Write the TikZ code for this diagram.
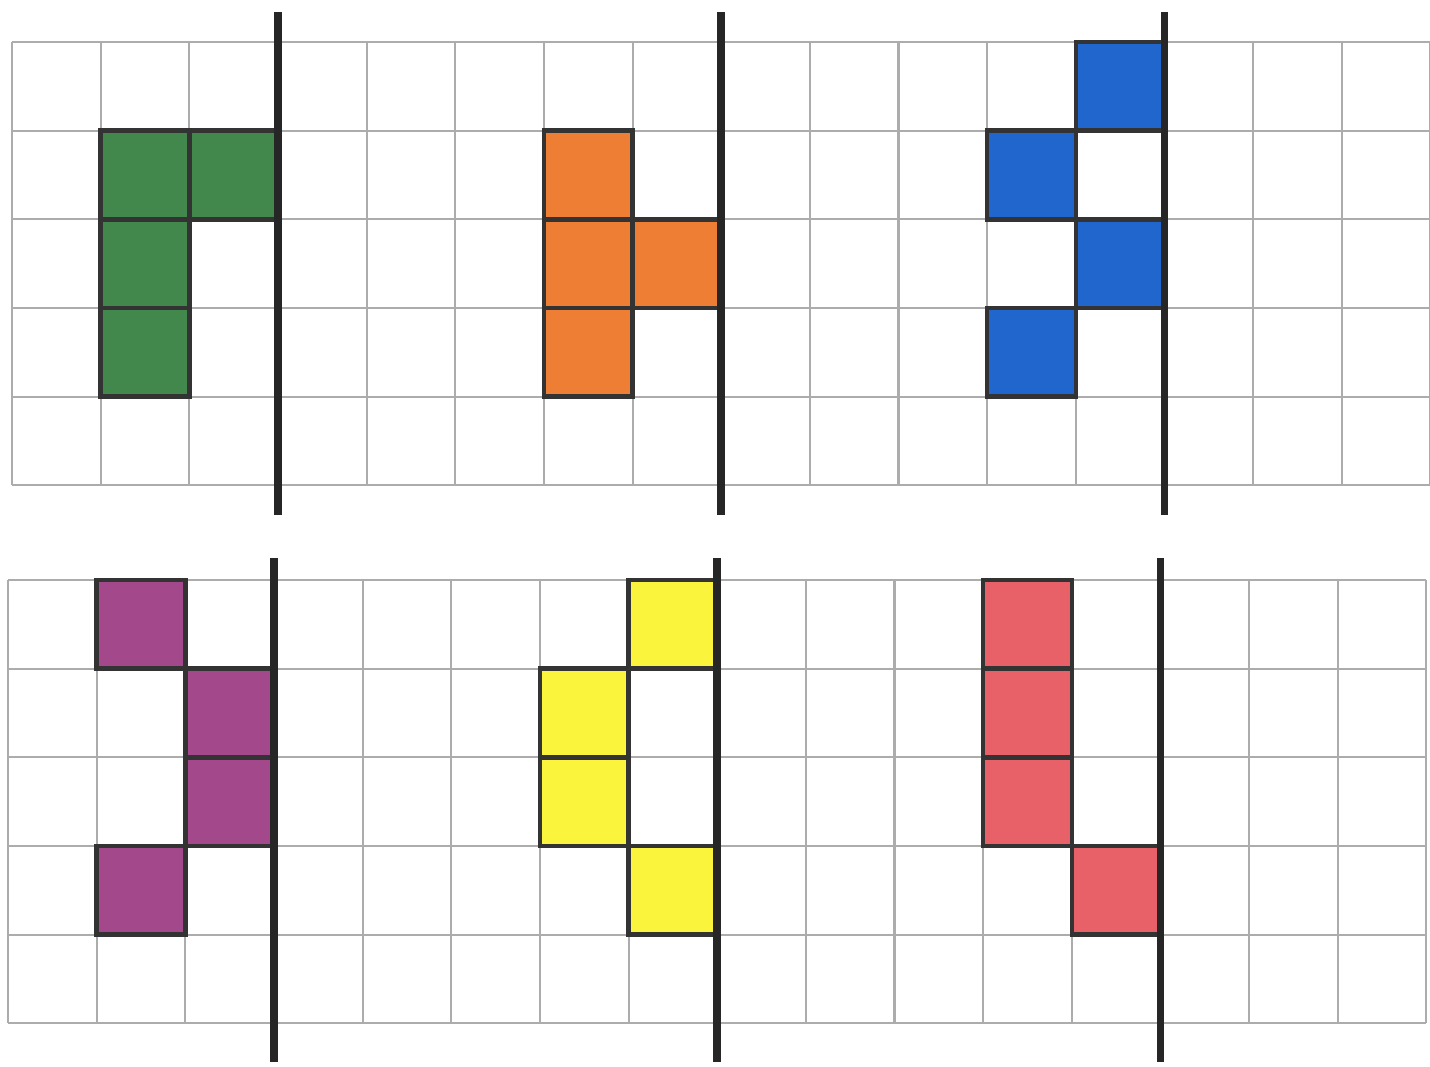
\documentclass[tikz,border=0pt]{standalone}
\usepackage{tikz}
\usetikzlibrary{positioning}
\usepackage{xcolor}
\definecolor{sqgreen}{RGB}{66,135,76}
\definecolor{sqorange}{RGB}{238,126,52}
\definecolor{sqblue}{RGB}{32,102,204}
\definecolor{sqpurple}{RGB}{164,72,140}
\definecolor{sqyellow}{RGB}{250,244,60}
\definecolor{sqred}{RGB}{232,96,104}

\begin{document}
\begin{tikzpicture}[
    x=0.01cm, y=-0.01cm,
    gridline/.style={gray!65, line width=0.6pt},
    mirror/.style={black!85, line width=2.2pt},
    cellbox/.style={draw=black!80, line width=1.3pt, fill=#1}
]
\useasboundingbox (0,0) rectangle (1430,1067);
\fill[white] (0,0) rectangle (1430,1067);

% upper sheet
\begin{scope}[shift={(12,42)}, x=0.886cm, y=-0.886cm]
\foreach \i in {0,...,16} \draw[gridline] (\i,0) -- (\i,5);
\foreach \j in {0,...,5} \draw[gridline] (0,\j) -- (16,\j);
\foreach \c/\r in {1/1,2/1,1/2,1/3} \draw[cellbox=sqgreen] (\c,\r) rectangle ++(1,1);
\foreach \c/\r in {6/1,6/2,7/2,6/3} \draw[cellbox=sqorange] (\c,\r) rectangle ++(1,1);
\foreach \c/\r in {12/0,11/1,12/2,11/3} \draw[cellbox=sqblue] (\c,\r) rectangle ++(1,1);
\foreach \c in {3,8,13} \draw[mirror] (\c,-0.34) -- (\c,5.34);
\end{scope}

% lower sheet
\begin{scope}[shift={(8,580)}, x=0.886cm, y=-0.886cm]
\foreach \i in {0,...,16} \draw[gridline] (\i,0) -- (\i,5);
\foreach \j in {0,...,5} \draw[gridline] (0,\j) -- (16,\j);
\foreach \c/\r in {1/0,2/1,2/2,1/3} \draw[cellbox=sqpurple] (\c,\r) rectangle ++(1,1);
\foreach \c/\r in {7/0,6/1,6/2,7/3} \draw[cellbox=sqyellow] (\c,\r) rectangle ++(1,1);
\foreach \c/\r in {11/0,11/1,11/2,12/3} \draw[cellbox=sqred] (\c,\r) rectangle ++(1,1);
\foreach \c in {3,8,13} \draw[mirror] (\c,-0.25) -- (\c,5.44);
\end{scope}
\end{tikzpicture}
\end{document}
